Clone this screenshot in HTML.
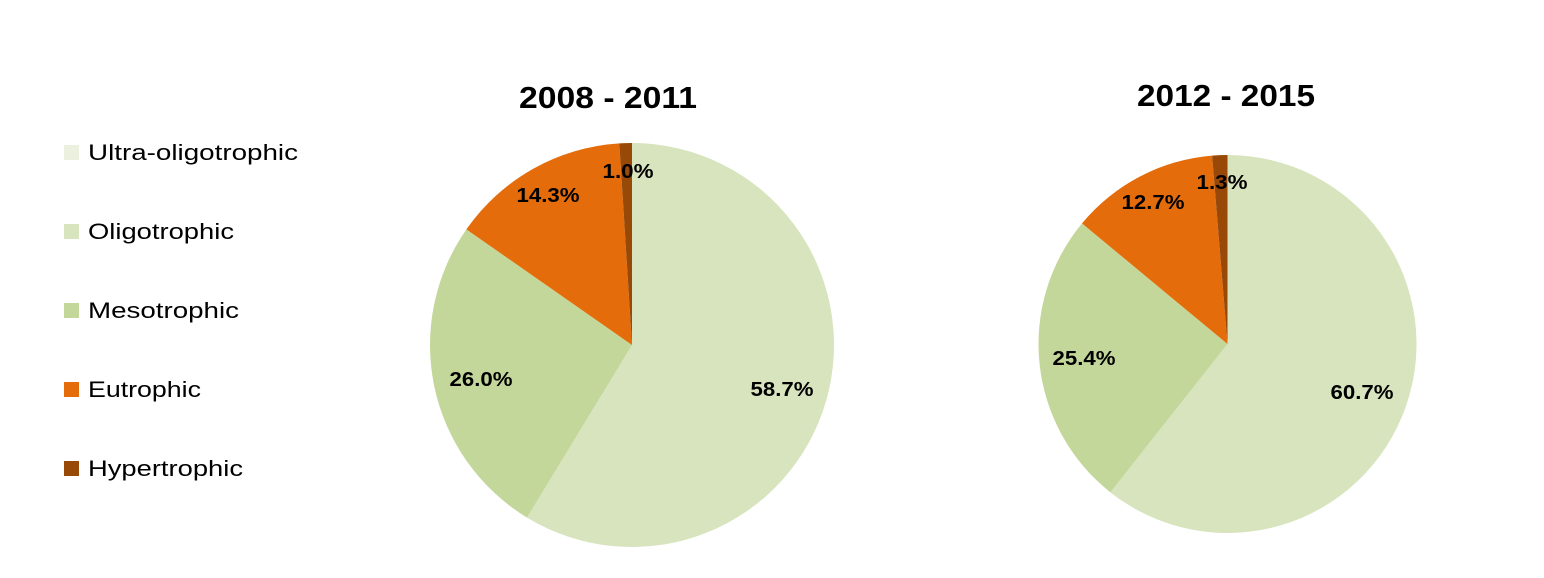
<!DOCTYPE html>
<html><head><meta charset="utf-8"><style>
html,body{margin:0;padding:0;background:#fff;}
svg{display:block;font-family:"Liberation Sans",sans-serif;}
</style></head><body>
<svg id="s" width="1544" height="578" viewBox="0 0 1544 578" xmlns="http://www.w3.org/2000/svg">
<rect width="1544" height="578" fill="#fff"/>
<g font-size="22" fill="#000">
<rect x="64" y="145" width="15" height="15" fill="#EBF1DE"/><text x="88" y="160" textLength="210" lengthAdjust="spacingAndGlyphs">Ultra-oligotrophic</text>
<rect x="64" y="224" width="15" height="15" fill="#D7E4BD"/><text x="88" y="239" textLength="146" lengthAdjust="spacingAndGlyphs">Oligotrophic</text>
<rect x="64" y="303" width="15" height="15" fill="#C4D79B"/><text x="88" y="318" textLength="151" lengthAdjust="spacingAndGlyphs">Mesotrophic</text>
<rect x="64" y="382" width="15" height="15" fill="#E46C0A"/><text x="88" y="397" textLength="113" lengthAdjust="spacingAndGlyphs">Eutrophic</text>
<rect x="64" y="461" width="15" height="15" fill="#984807"/><text x="88" y="476" textLength="155" lengthAdjust="spacingAndGlyphs">Hypertrophic</text>
</g>
<g font-weight="bold" font-size="31" text-anchor="middle">
<text x="608" y="108" textLength="178" lengthAdjust="spacingAndGlyphs">2008 - 2011</text>
<text x="1226" y="106" textLength="178" lengthAdjust="spacingAndGlyphs">2012 - 2015</text>
</g>
<g id="p1"></g><g id="p2"></g>
<g font-weight="bold" font-size="20" text-anchor="middle">
<text x="782" y="396" textLength="63" lengthAdjust="spacingAndGlyphs">58.7%</text>
<text x="481" y="386" textLength="63" lengthAdjust="spacingAndGlyphs">26.0%</text>
<text x="548" y="202" textLength="63" lengthAdjust="spacingAndGlyphs">14.3%</text>
<text x="628" y="178" textLength="51" lengthAdjust="spacingAndGlyphs">1.0%</text>
<text x="1362" y="399" textLength="63" lengthAdjust="spacingAndGlyphs">60.7%</text>
<text x="1084" y="365" textLength="63" lengthAdjust="spacingAndGlyphs">25.4%</text>
<text x="1153" y="209" textLength="63" lengthAdjust="spacingAndGlyphs">12.7%</text>
<text x="1222" y="189" textLength="51" lengthAdjust="spacingAndGlyphs">1.3%</text>
</g>
</svg>
<script>
function pie(id,cx,cy,r,vals){
 var cols=["#D7E4BD","#C4D79B","#E46C0A","#984807"];
 var g=document.getElementById(id),a=0,t=vals.reduce((x,y)=>x+y,0),h="";
 vals.forEach(function(v,i){
  var a0=a/t*2*Math.PI,a1=(a+v)/t*2*Math.PI;a+=v;
  var x0=cx+r*Math.sin(a0),y0=cy-r*Math.cos(a0),x1=cx+r*Math.sin(a1),y1=cy-r*Math.cos(a1);
  h+='<path d="M'+cx+','+cy+'L'+x0+','+y0+'A'+r+','+r+' 0 '+((a1-a0)>Math.PI?1:0)+' 1 '+x1+','+y1+'Z" fill="'+cols[i]+'"/>';
 });
 g.innerHTML=h;
}
pie("p1",632,345,202,[58.7,26.0,14.3,1.0]);
pie("p2",1227.5,344,189,[60.7,25.4,12.7,1.3]);
</script>
</body></html>
